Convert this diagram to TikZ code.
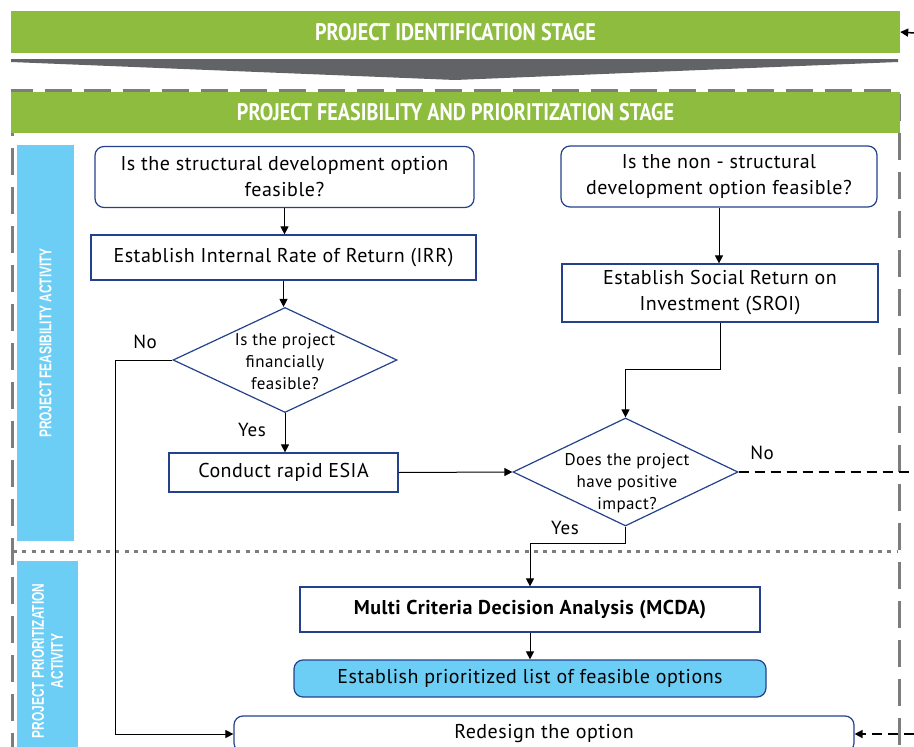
\documentclass[tikz,border=0pt]{standalone}
\usepackage{fontspec}
\setmainfont[LetterSpace=2.5]{PT Sans}
\newfontfamily\headfont[FakeStretch=0.84]{PT Sans}
\newfontfamily\sidefont[FakeStretch=0.70]{Liberation Sans}
\usetikzlibrary{shapes.geometric,arrows.meta}

\definecolor{stagegreen}{RGB}{141,188,63}
\definecolor{panelblue}{RGB}{108,206,245}
\definecolor{boxblue}{RGB}{36,66,140}
\definecolor{chevgrey}{RGB}{98,99,102}
\definecolor{framegrey}{RGB}{125,125,125}

\tikzset{
  box/.style={draw=boxblue, line width=1.2pt, fill=white, inner sep=0pt, align=center,
    font=\fontsize{20}{26}\selectfont},
  rbox/.style={box, rounded corners=9pt},
  decision/.style={diamond, draw=boxblue, line width=1.2pt, fill=white, inner sep=0pt,
    shape aspect=2.1},
  dtext/.style={inner sep=0pt, align=center, font=\fontsize{17}{22}\selectfont},
  flow/.style={-{Triangle[length=8pt,width=8pt]}, line width=1pt},
  loopback/.style={flow, dash pattern=on 10pt off 6pt, line width=1.5pt},
  stage/.style={fill=stagegreen, text=white, inner sep=0pt,
    font=\headfont\bfseries\fontsize{24}{26}\selectfont},
  panel/.style={fill=panelblue, text=white, inner sep=0pt, align=center,
    font=\sidefont\bfseries\fontsize{17}{19}\selectfont},
  lbl/.style={inner sep=0pt, font=\fontsize{19}{22}\selectfont},
}

\begin{document}
\begin{tikzpicture}[x=1pt, y=-1pt]
\useasboundingbox (0,0) rectangle (914,747);

% stage banners, chevron and dashed stage frame
\node[stage, minimum width=889pt, minimum height=42pt] (idstage) at (455.5,32) {PROJECT IDENTIFICATION STAGE};
\fill[chevgrey] (11,59) -- (898,59) -- (898,62) -- (455,80) -- (11,62) -- cycle;
\draw[framegrey, line width=3pt, dash pattern=on 27pt off 12pt]
  (12,760) -- (12,90.5) -- (899.5,90.5) -- (899.5,760);
\node[stage, minimum width=889pt, minimum height=41pt] (fpstage) at (455.5,112.5) {PROJECT FEASIBILITY AND PRIORITIZATION STAGE};

% activity side panels and separator
\node[panel, minimum width=57pt, minimum height=396pt] (feaspanel) at (45.5,343) {};
\node[panel, rotate=90] (feaslabel) at (feaspanel.center) {PROJECT FEASIBILITY ACTIVITY};
\node[panel, minimum width=61pt, minimum height=200pt] (priopanel) at (47.5,661) {};
\node[panel, rotate=90] (priolabel) at (priopanel.center) {PROJECT PRIORITIZATION\\ACTIVITY};
\draw[framegrey, line width=3pt, dash pattern=on 4pt off 5.3pt] (13,551) -- (897,551);

% process boxes
\node[rbox, minimum width=379pt, minimum height=61pt] (q1) at (284.5,177) {Is the structural development option\\feasible?};
\node[box, minimum width=385pt, minimum height=45pt] (irr) at (283.5,257.5) {Establish Internal Rate of Return (IRR)};
\node[decision, minimum width=224pt, minimum height=105pt] (d1) at (285,360) {};
\node[dtext] (d1text) at (285,362) {Is the project\\financially\\feasible?};
\node[box, minimum width=229pt, minimum height=39pt] (esia) at (283.5,472.5) {Conduct rapid ESIA};
\node[rbox, minimum width=316pt, minimum height=61pt] (q2) at (719,176.5) {Is the non - structural\\development option feasible?};
\node[box, minimum width=316pt, minimum height=58pt] (sroi) at (720,293) {Establish Social Return on\\Investment (SROI)};
\node[decision, minimum width=225pt, minimum height=108pt] (d2) at (625.5,472) {};
\node[dtext] (d2text) at (627,483) {Does the project\\have positive\\impact?};
\node[box, minimum width=460pt, minimum height=45pt, font=\bfseries\fontsize{20}{26}\selectfont] (mcda) at (530,609.5) {Multi Criteria Decision Analysis (MCDA)};
\node[rbox, fill=panelblue, minimum width=472pt, minimum height=37pt] (plist) at (530,678.5) {Establish prioritized list of feasible options};
\node[rbox, minimum width=620pt, minimum height=36pt] (redesign) at (544,734) {Redesign the option};

% connector end points at the page edge
\coordinate (noexit) at (914,472);
\coordinate (loopin) at (914,734);
\coordinate (idin) at (914,33);
\coordinate (nobend) at (115,0);

% connectors
\draw[flow] (q1.south) -- (q1.south |- irr.north);
\draw[flow] (irr.south) -- (irr.south |- d1.north);
\draw[flow] (d1.south) -- (d1.south |- esia.north);
\draw[flow] (d1.west) -| (nobend |- redesign.west) -- (redesign.west);
\draw[flow] (esia.east) -- (d2.west);
\draw[flow] (q2.south) -- (q2.south |- sroi.north);
\draw[flow] (sroi.south) -- ++(0,47) -| (d2.north);
\draw[flow] (d2.south) -- ++(0,17) -| (mcda.north);
\draw[flow] (mcda.south) -- (plist.north);
\draw[line width=1.5pt, dash pattern=on 10pt off 6pt] (d2.east) -- (noexit);
\draw[loopback] (loopin) -- (redesign.east);
\draw[loopback] (idin) -- (idstage.east);

% branch labels
\node[lbl] (no1) at (145,342) {No};
\node[lbl] (yes1) at (252,430) {Yes};
\node[lbl] (no2) at (762,453) {No};
\node[lbl] (yes2) at (565,528) {Yes};
\end{tikzpicture}
\end{document}
